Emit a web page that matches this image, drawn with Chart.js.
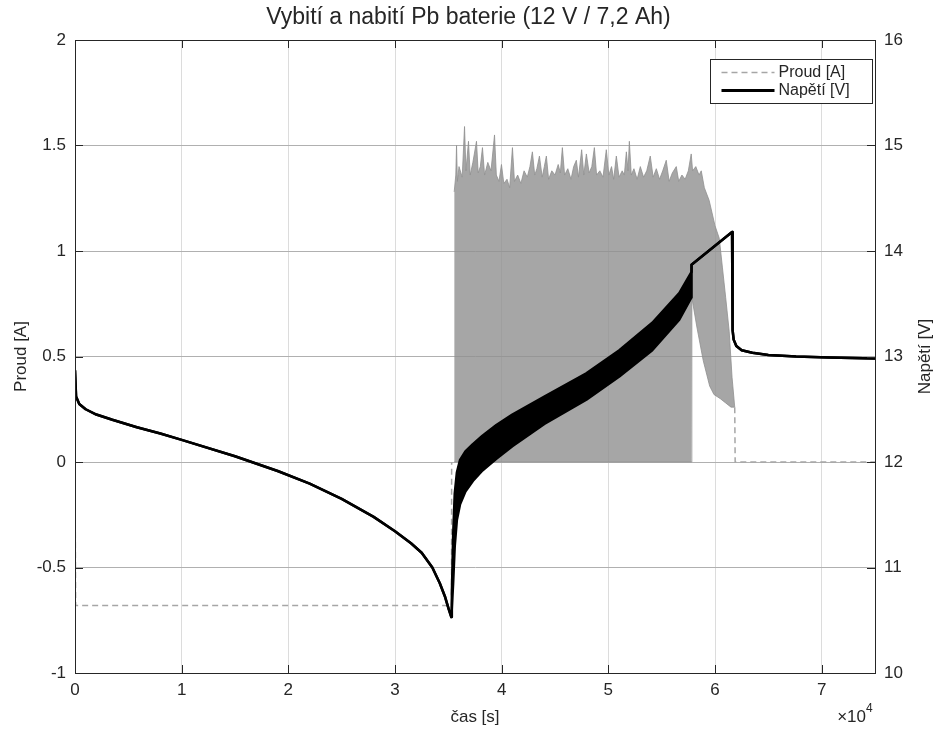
<!DOCTYPE html>
<html>
<head>
<meta charset="utf-8">
<title>Vybití a nabití Pb baterie</title>
<style>
  html, body { margin: 0; padding: 0; background: #fff; }
  #wrap { position: relative; width: 937px; height: 729px; }
</style>
</head>
<body>
<div id="wrap"><canvas id="chart"></canvas></div>
<script src="https://cdn.jsdelivr.net/npm/chart.js"></script>
<script>
// --- data (time in s) ---
const xTicks = [0, 10000, 20000, 30000, 40000, 50000, 60000, 70000];
const leftTicks = [-1, -0.5, 0, 0.5, 1, 1.5, 2];
const rightTicks = [10, 11, 12, 13, 14, 15, 16];

// current, dashed part outside the charging pulses
const currentTime = [0, 60, 35300, 35310, null, 61850, 61890, 75000];
const currentValue = [0, -0.68, -0.68, 0, null, 0.26, 0, 0];

// current during charging: top of the pulses
const pulseTopTime = [35550, 35700, 35770, 35850, 36000, 36300, 36520, 36650, 36890, 37050,
  37300, 37640, 37800, 38000, 38200, 38400, 38700, 39000, 39330, 39500,
  39750, 39980, 40200, 40500, 40750, 41010, 41200, 41500, 41800, 42100,
  42400, 42650, 42880, 43100, 43300, 43540, 43800, 44000, 44190, 44400,
  44700, 45000, 45300, 45500, 45690, 45900, 46200, 46500, 46750, 47000,
  47200, 47500, 47700, 47940, 48200, 48450, 48690, 48900, 49200, 49500,
  49810, 50050, 50300, 50500, 50750, 51000, 51300, 51500, 51690, 51850,
  51970, 52150, 52400, 52700, 53000, 53300, 53600, 53930, 54200, 54500,
  54800, 55100, 55430, 55700, 56000, 56370, 56600, 56900, 57200, 57500,
  57770, 57900, 58200, 58500, 58710, 59000, 59450, 60000, 60400, 60700,
  61000, 61330, 61600, 61850];
const pulseTopValue = [1.28, 1.36, 1.50, 1.33, 1.40, 1.35, 1.59, 1.38, 1.52, 1.36,
  1.42, 1.52, 1.37, 1.40, 1.49, 1.36, 1.42, 1.38, 1.55, 1.36,
  1.33, 1.41, 1.32, 1.34, 1.30, 1.49, 1.33, 1.36, 1.32, 1.38,
  1.35, 1.40, 1.47, 1.36, 1.39, 1.45, 1.35, 1.40, 1.45, 1.34,
  1.38, 1.36, 1.41, 1.37, 1.49, 1.36, 1.39, 1.34, 1.40, 1.43,
  1.35, 1.48, 1.36, 1.46, 1.37, 1.40, 1.49, 1.36, 1.38, 1.35,
  1.48, 1.36, 1.40, 1.34, 1.45, 1.35, 1.38, 1.36, 1.47, 1.38,
  1.52, 1.36, 1.39, 1.34, 1.40, 1.35, 1.38, 1.45, 1.35, 1.39,
  1.34, 1.38, 1.43, 1.33, 1.37, 1.40, 1.33, 1.36, 1.34, 1.38,
  1.46, 1.38, 1.40, 1.36, 1.38, 1.30, 1.24, 1.12, 1.06, 0.92,
  0.78, 0.62, 0.40, 0.26];
// current during charging: bottom of the pulses
const pulseLowTime = [35550, 57780, 57830, 58300, 58900, 59500, 59900, 60500, 61000, 61500, 61850];
const pulseLowValue = [0, 0, 0.78, 0.64, 0.48, 0.36, 0.32, 0.30, 0.28, 0.26, 0.26];

// voltage, upper and lower edge of the trace
const voltTime = [0, 100, 400, 1000, 2000, 3500, 5800, 8000, 10000, 15000,
  19000, 22000, 25000, 28000, 30000, 31500, 32500, 33500, 34200, 34700,
  35050, 35280, 35330, 35450, 35600, 35800, 36100, 36600, 37300, 38200,
  39500, 41000, 44000, 47940, 51030, 54120, 56650, 57790, 57800, 61600,
  61650, 61750, 62000, 62500, 63500, 65000, 67600, 70700, 75000];
const voltHigh = [12.87, 12.62, 12.55, 12.50, 12.45, 12.40, 12.33, 12.27, 12.21, 12.055,
  11.915, 11.795, 11.65, 11.48, 11.344, 11.23, 11.14, 11.00, 10.85, 10.72,
  10.60, 10.53, 10.75, 11.30, 11.70, 11.90, 12.02, 12.10, 12.17, 12.25,
  12.35, 12.45, 12.62, 12.84, 13.06, 13.32, 13.60, 13.80, 13.87, 14.18,
  13.25, 13.16, 13.10, 13.06, 13.035, 13.015, 13.00, 12.99, 12.98];
const voltLow = [12.87, 12.62, 12.55, 12.50, 12.45, 12.40, 12.33, 12.27, 12.21, 12.055,
  11.915, 11.795, 11.65, 11.48, 11.344, 11.23, 11.14, 11.00, 10.85, 10.72,
  10.60, 10.53, 10.53, 10.85, 11.20, 11.45, 11.60, 11.72, 11.82, 11.92,
  12.03, 12.15, 12.36, 12.59, 12.81, 13.06, 13.35, 13.56, 13.87, 14.18,
  13.25, 13.16, 13.10, 13.06, 13.035, 13.015, 13.00, 12.99, 12.98];

const ink = '#262626';
const grey = '#a6a6a6';
const pulseGrey = 'rgba(144,144,144,0.8)';
const fontFam = '"Liberation Sans", Arial, Helvetica, sans-serif';

function pts(xs, ys) {
  return xs.map((x, i) => ({x: x, y: ys[i]}));
}

Chart.defaults.font.family = fontFam;
Chart.defaults.color = ink;

// MATLAB-like frame: box, inward ticks, legend, right label, exponent
const frame = {
  id: 'frame',
  afterDraw(chart) {
    const ctx = chart.ctx;
    const a = chart.chartArea;
    const sx = chart.scales.x, sl = chart.scales.y, sr = chart.scales.y1;
    ctx.save();
    ctx.strokeStyle = ink;
    ctx.lineWidth = 1;
    ctx.beginPath();
    xTicks.forEach(v => {
      const p = Math.round(sx.getPixelForValue(v)) + 0.5;
      ctx.moveTo(p, a.bottom); ctx.lineTo(p, a.bottom - 8);
      ctx.moveTo(p, a.top); ctx.lineTo(p, a.top + 8);
    });
    leftTicks.forEach(v => {
      const p = Math.round(sl.getPixelForValue(v)) + 0.5;
      ctx.moveTo(a.left, p); ctx.lineTo(a.left + 8, p);
    });
    rightTicks.forEach(v => {
      const p = Math.round(sr.getPixelForValue(v)) + 0.5;
      ctx.moveTo(a.right, p); ctx.lineTo(a.right - 8, p);
    });
    ctx.stroke();
    ctx.strokeRect(Math.round(a.left) + 0.5, Math.round(a.top) + 0.5,
      Math.round(a.right - a.left), Math.round(a.bottom - a.top));

    // legend
    const lx = Math.round(a.right) - 164.5, ly = Math.round(a.top) + 19.5;
    ctx.fillStyle = '#fff';
    ctx.fillRect(lx, ly, 162, 44);
    ctx.strokeRect(lx, ly, 162, 44);
    ctx.lineWidth = 1.5;
    ctx.strokeStyle = grey;
    ctx.setLineDash([6, 4]);
    ctx.beginPath(); ctx.moveTo(lx + 11, ly + 13); ctx.lineTo(lx + 64, ly + 13); ctx.stroke();
    ctx.setLineDash([]);
    ctx.lineWidth = 3;
    ctx.strokeStyle = '#000';
    ctx.beginPath(); ctx.moveTo(lx + 11, ly + 31); ctx.lineTo(lx + 64, ly + 31); ctx.stroke();
    ctx.fillStyle = ink;
    ctx.font = '16px ' + fontFam;
    ctx.textAlign = 'left';
    ctx.textBaseline = 'middle';
    ctx.fillText('Proud [A]', lx + 68, ly + 13);
    ctx.fillText('Napětí [V]', lx + 68, ly + 31);

    // right axis title
    ctx.save();
    ctx.font = '17px ' + fontFam;
    ctx.translate(925, (a.top + a.bottom) / 2);
    ctx.rotate(-Math.PI / 2);
    ctx.textAlign = 'center';
    ctx.fillText('Napětí [V]', 0, 0);
    ctx.restore();

    // x exponent
    ctx.font = '17px ' + fontFam;
    ctx.textAlign = 'right';
    ctx.fillText('\u00d710', a.right - 9, a.bottom + 44);
    ctx.font = '12px ' + fontFam;
    ctx.textAlign = 'left';
    ctx.fillText('4', a.right - 9, a.bottom + 36);
    ctx.restore();
  }
};

new Chart(document.getElementById('chart'), {
  type: 'line',
  data: {
    datasets: [
      { label: 'Napětí [V]', data: pts(voltTime, voltHigh), yAxisID: 'y1',
        borderColor: '#000', backgroundColor: '#000', borderWidth: 2.5, fill: '+1',
        borderJoinStyle: 'round' },
      { label: 'napeti-spodni', data: pts(voltTime, voltLow), yAxisID: 'y1',
        borderColor: '#000', borderWidth: 2.5, fill: false, borderJoinStyle: 'round' },
      { label: 'Proud [A]', data: pts(currentTime, currentValue), yAxisID: 'y',
        borderColor: grey, borderWidth: 1.5, borderDash: [6, 4], fill: false, spanGaps: false },
      { label: 'proud-pulzy', data: pts(pulseTopTime, pulseTopValue), yAxisID: 'y',
        borderColor: pulseGrey, backgroundColor: pulseGrey, borderWidth: 1, fill: '+1' },
      { label: 'proud-pulzy-dole', data: pts(pulseLowTime, pulseLowValue), yAxisID: 'y',
        borderColor: pulseGrey, borderWidth: 1, fill: false }
    ]
  },
  options: {
    responsive: true,
    maintainAspectRatio: false,
    animation: false,
    devicePixelRatio: 1,
    elements: { point: { radius: 0 }, line: { tension: 0 } },
    layout: { padding: 0 },
    plugins: {
      legend: { display: false },
      tooltip: { enabled: false },
      title: {
        display: true,
        text: 'Vybití a nabití Pb baterie (12 V / 7,2 Ah)',
        font: { size: 23, weight: 'normal' },
        color: ink,
        padding: { top: 4, bottom: 8.4 }
      }
    },
    scales: {
      x: {
        type: 'linear', min: 0, max: 75000,
        afterBuildTicks: s => { s.ticks = xTicks.map(v => ({ value: v })); },
        afterFit: s => { s.height = 56; },
        ticks: { callback: v => String(v / 10000), font: { size: 17 }, padding: 7, maxRotation: 0 },
        grid: { color: '#dcdcdc', drawTicks: false },
        border: { color: ink },
        title: { display: true, text: 'čas [s]', font: { size: 17 }, padding: { top: 0, bottom: 1 } }
      },
      y: {
        type: 'linear', position: 'left', min: -1, max: 2,
        afterBuildTicks: s => { s.ticks = leftTicks.map(v => ({ value: v })); },
        afterFit: s => { s.width = 75; },
        ticks: { callback: v => String(v), font: { size: 17 }, padding: 9 },
        grid: { color: '#b0b0b0', drawTicks: false },
        border: { color: ink },
        title: { display: true, text: 'Proud [A]', font: { size: 17 }, padding: { top: 11, bottom: 0 } }
      },
      y1: {
        type: 'linear', position: 'right', min: 10, max: 16,
        afterBuildTicks: s => { s.ticks = rightTicks.map(v => ({ value: v })); },
        afterFit: s => { s.width = 62; },
        ticks: { callback: v => String(v), font: { size: 17 }, padding: 9 },
        grid: { drawOnChartArea: false, drawTicks: false },
        border: { color: ink }
      }
    }
  },
  plugins: [frame]
});
</script>
</body>
</html>
